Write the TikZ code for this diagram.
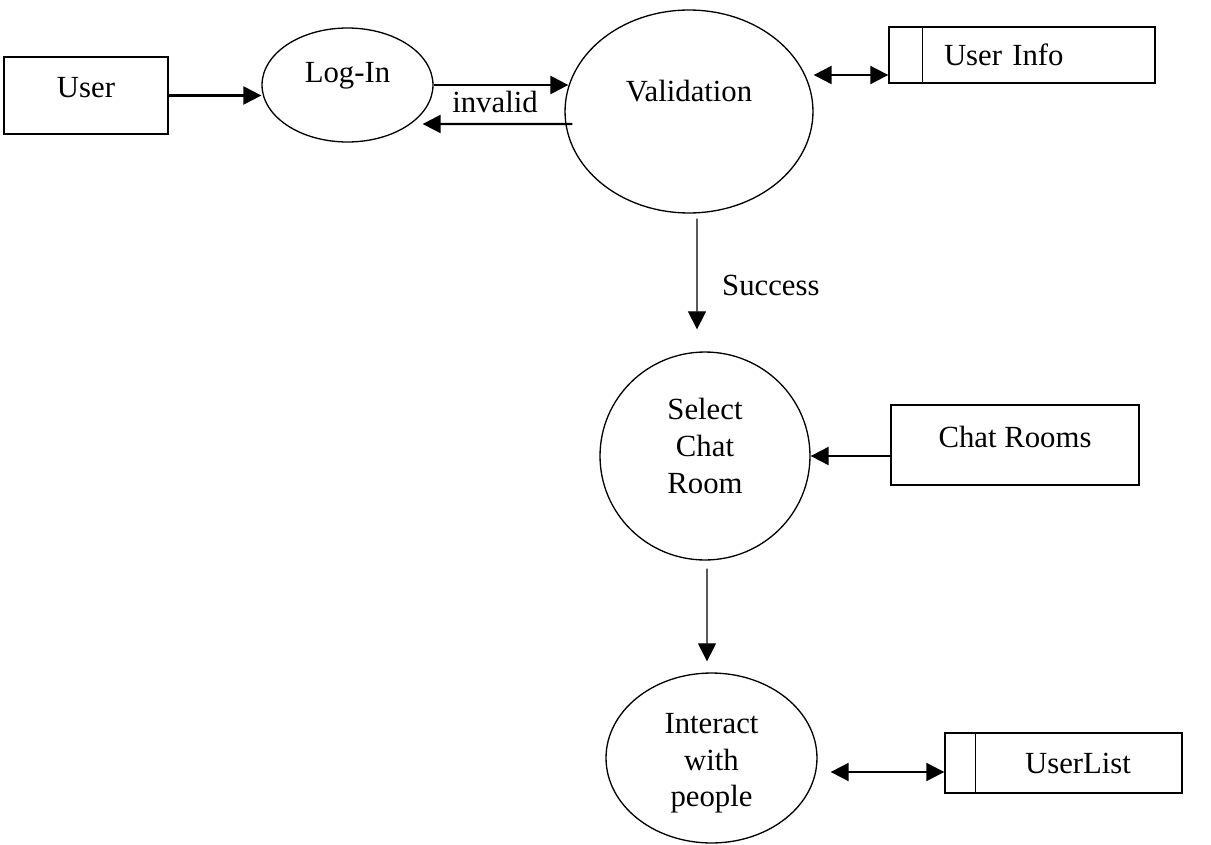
\documentclass[tikz,border=0pt]{standalone}
\usepackage{fontspec}
\setmainfont{Liberation Serif}
\usetikzlibrary{arrows.meta,shapes.geometric,calc}

\begin{document}
\begin{tikzpicture}[x=0.02cm,y=-0.02cm,
every node/.style={font=\fontsize{17.5}{21}\selectfont},
entity/.style={draw,rectangle,line width=1pt,inner sep=0pt,text height=0.45cm,text depth=0.37cm},
store/.style={draw,rectangle,line width=0.8pt,inner sep=0pt},
process/.style={draw,ellipse,line width=0.75pt,inner sep=0pt,align=center},
flow/.style={-{Triangle[length=0.36cm,width=0.36cm]},line width=1.3pt},
thinflow/.style={-{Triangle[length=0.36cm,width=0.36cm]},line width=0.7pt},
twoway/.style={{Triangle[length=0.36cm,width=0.36cm]}-{Triangle[length=0.36cm,width=0.36cm]},line width=1.1pt}]
\useasboundingbox (0,0) rectangle (1211,845);

\node (user) at (86,95.5) [entity,minimum width=3.28cm,minimum height=1.54cm] {User};
\node (login) at (347.5,85) [process,minimum width=3.42cm,minimum height=2.28cm,text height=0.4cm,text depth=0.5cm] {Log-In};
\node (valid) at (689,111.5) [process,minimum width=4.96cm,minimum height=4.06cm,text height=0.4cm,text depth=0.8cm] {Validation};
\node (info) at (1022,55) [store,minimum width=5.32cm,minimum height=1.12cm,inner xsep=1.1cm,text width=3.12cm,align=left] {User Info};
\node (select) at (705,456) [process,minimum width=4.2cm,minimum height=4.16cm,text depth=0.41cm] {Select\\Chat\\Room};
\node (rooms) at (1015,445) [entity,minimum width=4.96cm,minimum height=1.6cm] {Chat Rooms};
\node (interact) at (711.5,758) [process,minimum width=4.22cm,minimum height=3.4cm,text height=2.09cm,text depth=0.13cm] {Interact\\with\\people};
\node (list) at (1063.5,763) [store,minimum width=4.74cm,minimum height=1.2cm,inner xsep=1.02cm,text width=2.7cm,align=right] {UserList};

\node (invalid) at (495,102) {invalid};
\node (success) at (716,285) [anchor=west] {Success};

% store dividers
\draw[line width=0.8pt] ([xshift=0.68cm]info.north west) -- ([xshift=0.68cm]info.south west);
\draw[line width=0.8pt] ([xshift=0.62cm]list.north west) -- ([xshift=0.62cm]list.south west);

\coordinate (infoport) at ([yshift=-0.4cm]info.west);

\draw[flow] (user.east) -- (user.east -| login.west);
\draw[flow] (login.east) -- ([xshift=0.08cm]login.east -| valid.west);
\draw[flow] ([xshift=0.16cm,yshift=-0.25cm]valid.west) -- ([xshift=-0.22cm,yshift=-0.78cm]login.east);
\draw[twoway] (infoport) -- (infoport -| valid.east);
\draw[thinflow] ([xshift=0.16cm,yshift=-0.1cm]valid.south) -- ([xshift=-0.16cm,yshift=0.44cm]select.north);
\draw[flow,line width=1.1pt] (select.east -| rooms.west) -- (select.east);
\draw[thinflow] ([xshift=0.04cm,yshift=-0.16cm]select.south) -- ([xshift=-0.09cm,yshift=0.22cm]interact.north);
\draw[twoway] ([xshift=0.26cm,yshift=-0.28cm]interact.east) -- ([yshift=-0.18cm]list.west);

\end{tikzpicture}
\end{document}
